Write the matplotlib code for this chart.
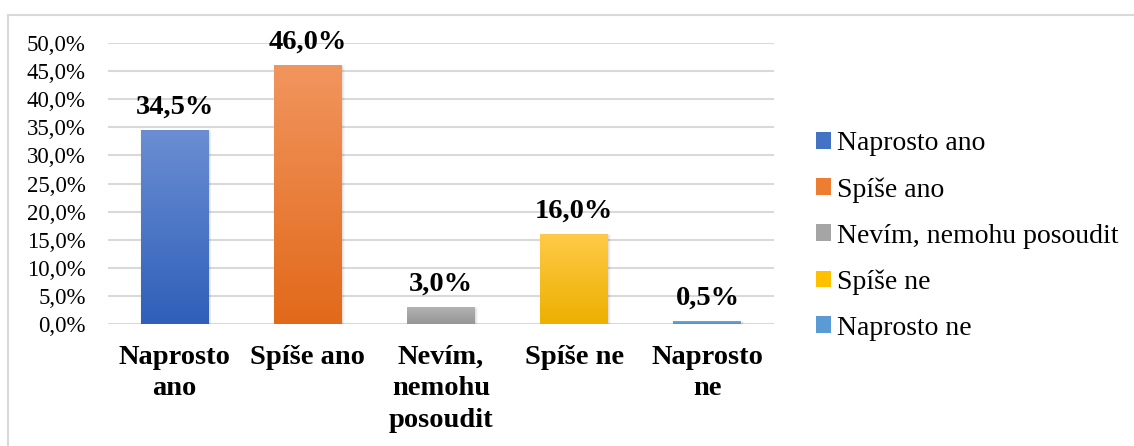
import numpy as np
import matplotlib
matplotlib.use("Agg")
import matplotlib.pyplot as plt
from matplotlib.colors import LinearSegmentedColormap
from matplotlib.patches import Rectangle, Patch

plt.rcParams['font.family'] = ['Liberation Serif', 'DejaVu Serif']

categories = ['Naprosto ano', 'Spíše ano', 'Nevím, nemohu posoudit', 'Spíše ne', 'Naprosto ne']
tick_labels = ['Naprosto\nano', 'Spíše ano', 'Nevím,\nnemohu\nposoudit', 'Spíše ne', 'Naprosto\nne']
values = [34.5, 46.0, 3.0, 16.0, 0.5]
value_labels = ['34,5%', '46,0%', '3,0%', '16,0%', '0,5%']
yticks = [0, 5, 10, 15, 20, 25, 30, 35, 40, 45, 50]

# (top, bottom) colours of each bar's vertical gradient
grad_top = ['#6B8ED3', '#F1955E', '#B3B3B3', '#FFCA48', '#6FA8DC']
grad_bot = ['#2F5FB9', '#E2691A', '#959595', '#ECB000', '#4F8FCC']
solid = ['#4472C4', '#ED7D31', '#A5A5A5', '#FFC000', '#5B9BD5']

fig = plt.figure(figsize=(11.34, 4.46), dpi=100)
ax = fig.add_axes([108 / 1134, 1 - 324 / 446, 666 / 1134, 281 / 446])

x = np.arange(len(values))
bars = ax.bar(x, values, width=0.51, color='none', zorder=3)

grad = np.linspace(1, 0, 256).reshape(-1, 1)
for b, top, bot, v, lab in zip(bars, grad_top, grad_bot, values, value_labels):
    x0, w, h = b.get_x(), b.get_width(), b.get_height()
    # soft shadow under the bar
    for k, a in enumerate([0.05, 0.04, 0.03]):
        ax.add_patch(Rectangle((x0 + 0.01 - 0.006 * k, -0.25 - 0.15 * k), w + 0.012 * k, h + 0.3 * k,
                               color='k', alpha=a, lw=0, zorder=2))
    cmap = LinearSegmentedColormap.from_list('g', [bot, top])
    im = ax.imshow(grad, aspect='auto', cmap=cmap, extent=(x0, x0 + w, 0, h),
                   origin='upper', zorder=3, interpolation='bicubic')
    im.set_clip_path(b)
    ax.annotate(lab, (x0 + w / 2, h), xytext=(0, 12), textcoords='offset points',
                ha='center', va='baseline', fontsize=20.5, fontweight='bold')

ax.set_xlim(-0.5, len(values) - 0.5)
ax.set_ylim(0, 50)
ax.set_yticks(yticks)
ax.set_yticklabels([f'{t:.1f}%'.replace('.', ',') for t in yticks], fontsize=16.5)
ax.set_xticks(x)
ax.set_xticklabels(tick_labels, fontsize=20.5, fontweight='bold', linespacing=1.35)
ax.tick_params(axis='y', length=0, pad=16)
ax.tick_params(axis='x', length=0, pad=15)
ax.grid(axis='y', color='#D9D9D9', lw=1.5, zorder=0)
for s in ax.spines.values():
    s.set_visible(False)

handles = [Patch(facecolor=c, edgecolor='none') for c in solid]
fig.legend(handles, categories, loc='center left', bbox_to_anchor=(816 / 1134, 1 - 236 / 446),
           frameon=False, fontsize=20, handlelength=0.55, handleheight=0.55,
           handletextpad=0.2, labelspacing=0.75, borderpad=0, borderaxespad=0)

# outer chart border
fig.add_artist(Rectangle((8 / 1134, -0.1), 1.2, 1 - 15 / 446 + 0.1, transform=fig.transFigure,
                         fill=False, edgecolor='#D9D9D9', lw=1.5))

fig.savefig('out.png', dpi=100)
